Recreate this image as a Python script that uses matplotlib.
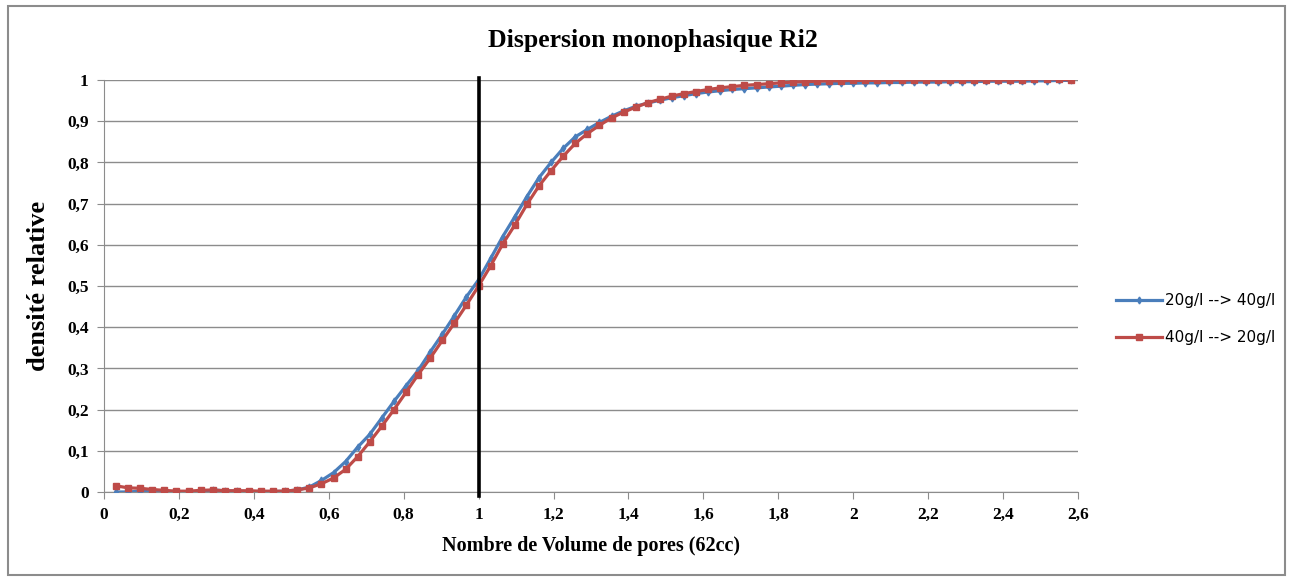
import matplotlib
matplotlib.use("Agg")
import matplotlib.pyplot as plt
from matplotlib.patches import Rectangle
from matplotlib.ticker import FuncFormatter, MultipleLocator

# Pore volumes: one sample every 2 cc on a 62 cc pore volume
volumes = [k / 31 for k in range(1, 81)]

# 20g/l --> 40g/l
blue = [
    0.000, 0.000, 0.002, 0.000, -0.002, 0.000, 0.001, 0.000, 0.005, 0.003,
    0.002, 0.001, 0.001, 0.001, 0.002, 0.005, 0.012, 0.028, 0.047, 0.074,
    0.109, 0.140, 0.180, 0.220, 0.258, 0.295, 0.340, 0.383, 0.428, 0.474,
    0.515, 0.567, 0.620, 0.668, 0.717, 0.763, 0.800, 0.834, 0.862, 0.880,
    0.897, 0.912, 0.925, 0.936, 0.944, 0.951, 0.957, 0.962, 0.967, 0.971,
    0.974, 0.977, 0.979, 0.981, 0.983, 0.985, 0.987, 0.989, 0.990, 0.991,
    0.992, 0.992, 0.993, 0.993, 0.994, 0.994, 0.995, 0.995, 0.995, 0.996,
    0.996, 0.996, 0.997, 0.997, 0.997, 0.997, 0.998, 0.998, 0.999, 0.999,
]

# 40g/l --> 20g/l
red = [
    0.015, 0.010, 0.009, 0.006, 0.004, 0.002, 0.002, 0.004, 0.005, 0.003,
    0.003, 0.003, 0.002, 0.002, 0.002, 0.005, 0.010, 0.020, 0.034, 0.055,
    0.086, 0.122, 0.160, 0.200, 0.242, 0.285, 0.325, 0.368, 0.410, 0.454,
    0.500, 0.549, 0.602, 0.648, 0.698, 0.743, 0.780, 0.815, 0.846, 0.870,
    0.890, 0.908, 0.922, 0.934, 0.945, 0.953, 0.961, 0.967, 0.972, 0.977,
    0.981, 0.984, 0.987, 0.989, 0.991, 0.993, 0.995, 0.996, 0.997, 0.998,
    0.998, 0.999, 0.999, 0.999, 1.000, 1.000, 1.000, 1.000, 1.000, 1.000,
    1.000, 1.000, 1.000, 1.000, 1.000, 1.001, 1.003, 1.003, 1.002, 1.000,
]

labels = ["20g/l --> 40g/l", "40g/l --> 20g/l"]

serif = ["Liberation Serif", "DejaVu Serif"]

fig = plt.figure(figsize=(12.93, 5.81), dpi=100)
ax = fig.add_axes([0.0804, 0.1532, 0.7533, 0.7091])

ax.plot(volumes, blue, color="#4A7EBB", lw=2.3, marker="d", ms=3.5,
        label=labels[0], zorder=3)
ax.plot(volumes, red, color="#BE4B48", lw=2.3, marker="s", ms=5,
        label=labels[1], zorder=4)
ax.axvline(1.0, ymin=-0.01, ymax=1.005, color="black", lw=2.6, zorder=5,
           clip_on=False)

ax.set_xlim(0, 2.6)
ax.set_ylim(0, 1)
ax.xaxis.set_major_locator(MultipleLocator(0.2))
ax.yaxis.set_major_locator(MultipleLocator(0.1))
fmt = FuncFormatter(lambda v, _: f"{v:g}".replace(".", ","))
ax.xaxis.set_major_formatter(fmt)
ax.yaxis.set_major_formatter(fmt)
ax.grid(axis="y", color="#8c8c8c", lw=1)
ax.set_axisbelow(True)
for side in ("top", "right"):
    ax.spines[side].set_visible(False)
for side in ("left", "bottom"):
    ax.spines[side].set_color("#8c8c8c")
ax.tick_params(direction="out", length=5, color="#8c8c8c", pad=6)
for lab in ax.get_xticklabels() + ax.get_yticklabels():
    lab.set_fontfamily(serif)
    lab.set_fontweight("bold")
    lab.set_fontsize(12.5)

ax.set_xlabel("Nombre de Volume de pores (62cc)", family=serif,
              fontweight="bold", fontsize=14.5, labelpad=9)
ax.set_ylabel("densité relative", family=serif, fontweight="bold",
              fontsize=19, labelpad=12)
fig.text(0.505, 0.93, "Dispersion monophasique Ri2", family=serif,
         fontweight="bold", fontsize=18.5, ha="center", va="center")

ax.legend(loc="center left", bbox_to_anchor=(1.025, 0.42), frameon=False,
          fontsize=11, handlelength=3.0, labelspacing=1.45, handletextpad=0.2)

fig.add_artist(Rectangle((0.006, 0.01), 0.988, 0.98, transform=fig.transFigure,
                         fill=False, edgecolor="#8c8c8c", lw=1.5))

fig.savefig("out.png", dpi=100)
